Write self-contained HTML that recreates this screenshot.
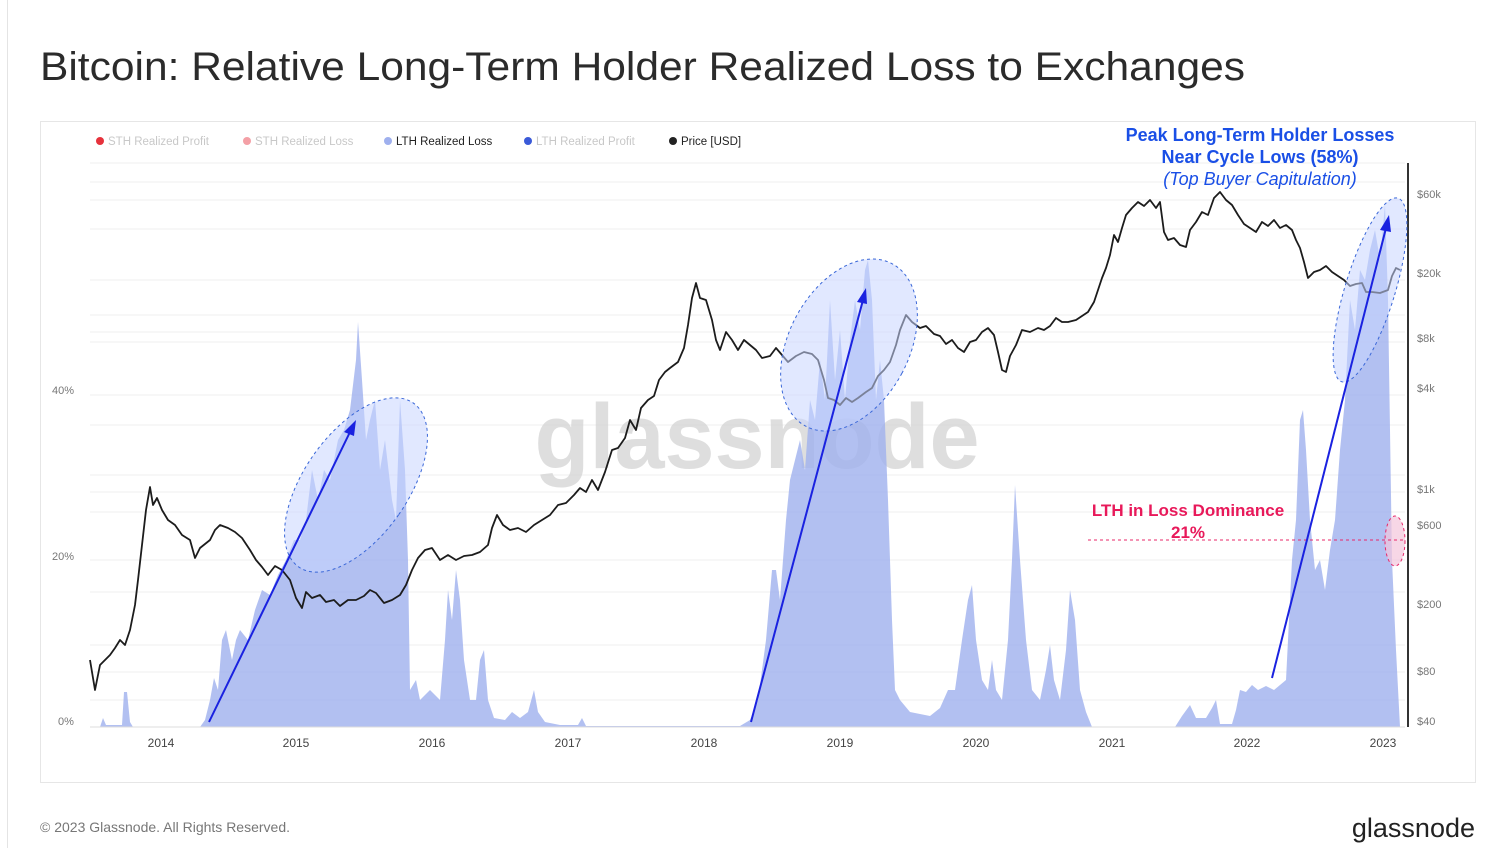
<!DOCTYPE html>
<html><head><meta charset="utf-8"><style>
body{margin:0;width:1501px;height:848px;background:#fff;font-family:"Liberation Sans",sans-serif;overflow:hidden;position:relative}
</style></head><body>
<svg width="1501" height="848" viewBox="0 0 1501 848" xmlns="http://www.w3.org/2000/svg" style="position:absolute;left:0;top:0">
<line x1="7.5" y1="0" x2="7.5" y2="848" stroke="#e4e4e4"/>
<text x="40" y="80" font-size="40" fill="#2b2b2b" font-family="Liberation Sans" textLength="1205" lengthAdjust="spacingAndGlyphs">Bitcoin: Relative Long-Term Holder Realized Loss to Exchanges</text>
<rect x="40.5" y="121.5" width="1435" height="661" fill="#fff" stroke="#e6e6e6"/>
<g stroke="#efefef" stroke-width="1">
<line x1="90" y1="163" x2="1405" y2="163"/><line x1="90" y1="182" x2="1405" y2="182"/><line x1="90" y1="200" x2="1405" y2="200"/><line x1="90" y1="229" x2="1405" y2="229"/><line x1="90" y1="280" x2="1405" y2="280"/><line x1="90" y1="315" x2="1405" y2="315"/><line x1="90" y1="332" x2="1405" y2="332"/><line x1="90" y1="342" x2="1405" y2="342"/><line x1="90" y1="395" x2="1405" y2="395"/><line x1="90" y1="425" x2="1405" y2="425"/><line x1="90" y1="475" x2="1405" y2="475"/><line x1="90" y1="492" x2="1405" y2="492"/><line x1="90" y1="512" x2="1405" y2="512"/><line x1="90" y1="560" x2="1405" y2="560"/><line x1="90" y1="592" x2="1405" y2="592"/><line x1="90" y1="645" x2="1405" y2="645"/><line x1="90" y1="672" x2="1405" y2="672"/><line x1="90" y1="700" x2="1405" y2="700"/>
</g>
<g font-size="11" fill="#777">
<text x="52" y="394">40%</text><text x="52" y="560">20%</text><text x="58" y="725">0%</text>
<text x="1417" y="198">$60k</text><text x="1417" y="277">$20k</text><text x="1417" y="342">$8k</text><text x="1417" y="392">$4k</text><text x="1417" y="493">$1k</text><text x="1417" y="529">$600</text><text x="1417" y="608">$200</text><text x="1417" y="675">$80</text><text x="1417" y="725">$40</text>
</g>
<g font-size="12" fill="#444" text-anchor="middle">
<text x="161" y="747">2014</text><text x="296" y="747">2015</text><text x="432" y="747">2016</text><text x="568" y="747">2017</text><text x="704" y="747">2018</text><text x="840" y="747">2019</text><text x="976" y="747">2020</text><text x="1112" y="747">2021</text><text x="1247" y="747">2022</text><text x="1383" y="747">2023</text>
</g>
<text x="757" y="468" font-size="92" fill="#d4d4d4" text-anchor="middle" font-weight="bold" opacity="0.75" textLength="445" lengthAdjust="spacingAndGlyphs">glassnode</text>
<polygon fill="#9fb0ee" opacity="0.8" points="90,727 100,727 103,718 106,725 122,725 124,692 127,692 130,722 133,727 200,727 205,720 210,700 214,678 218,690 222,640 226,630 232,660 236,640 240,630 248,640 255,610 262,590 270,595 278,575 286,560 294,540 300,540 306,520 312,470 318,500 324,470 330,480 338,440 344,430 350,410 356,360 358,322 362,380 366,440 370,420 375,400 380,470 385,440 392,500 396,520 400,400 405,470 408,560 410,690 416,680 420,700 430,690 440,700 445,640 448,590 452,620 456,570 460,600 464,660 470,700 476,700 480,660 484,650 488,700 494,718 505,720 512,712 520,718 528,712 534,690 538,712 545,722 560,725 578,725 582,718 586,726 740,726 750,720 758,700 766,640 772,570 776,570 780,600 786,520 790,480 795,460 800,440 805,470 810,400 815,420 820,360 825,400 830,300 835,380 840,330 845,400 850,340 855,300 860,330 865,270 868,260 872,300 876,400 880,360 884,400 888,500 892,620 895,690 900,700 910,712 930,716 940,708 948,690 955,690 962,640 968,600 972,585 976,640 982,680 988,690 992,660 996,690 1002,700 1008,640 1012,560 1015,485 1020,560 1026,640 1032,690 1040,700 1046,670 1050,645 1054,680 1060,700 1066,650 1070,590 1075,620 1080,690 1086,712 1092,727 1175,727 1182,716 1190,705 1196,718 1206,718 1212,708 1216,700 1220,724 1232,724 1236,710 1240,690 1246,692 1252,685 1258,690 1266,686 1274,690 1280,685 1286,680 1292,560 1296,520 1300,420 1303,410 1306,450 1310,520 1315,570 1320,560 1325,590 1330,550 1335,520 1340,450 1345,400 1350,300 1355,330 1360,270 1365,280 1370,250 1375,230 1380,260 1385,205 1388,300 1392,560 1396,650 1400,727"/>
<polyline fill="none" stroke="#1c1c1c" stroke-width="1.8" stroke-linejoin="round" points="90,660 95,690 100,665 110,655 115,648 120,640 125,645 130,630 135,605 138,580 142,545 146,510 150,487 153,505 157,498 162,510 168,520 175,525 182,535 190,540 195,558 200,548 210,540 215,530 220,525 228,528 235,532 242,538 250,550 256,560 262,567 268,575 275,566 282,570 290,580 296,598 302,608 306,592 312,598 320,595 326,602 334,600 340,606 348,600 356,600 364,596 370,590 376,593 384,603 392,600 400,595 406,585 412,570 418,558 425,550 432,548 440,560 448,555 456,560 464,556 472,555 480,552 488,545 492,528 497,515 503,525 510,530 518,528 526,532 534,525 542,520 550,515 558,505 566,503 574,495 580,488 586,492 592,480 598,490 605,472 612,450 618,448 625,438 630,420 636,430 641,408 648,400 654,396 659,380 665,372 670,368 678,362 684,348 688,325 692,298 696,283 700,298 706,300 712,320 716,340 720,350 726,332 732,340 738,350 744,340 750,345 756,350 762,358 770,356 776,348 782,355 788,362 796,356 804,352 812,354 818,360 824,380 828,398 834,400 840,405 846,398 852,402 858,398 866,392 872,388 878,376 884,370 890,362 896,345 900,330 906,315 912,322 920,328 926,326 934,334 940,336 946,344 952,340 958,348 964,352 970,342 976,340 982,332 988,328 994,335 998,352 1002,370 1006,372 1010,356 1016,345 1022,330 1030,332 1038,328 1044,330 1050,326 1056,318 1062,322 1068,322 1076,320 1082,316 1088,312 1094,302 1098,290 1102,278 1106,268 1110,255 1114,235 1118,242 1122,228 1126,215 1132,208 1138,202 1144,206 1150,200 1156,208 1160,202 1164,232 1168,240 1174,238 1180,245 1186,247 1190,230 1196,222 1202,212 1208,215 1214,198 1220,192 1226,200 1232,205 1238,215 1244,224 1250,228 1256,232 1262,222 1268,226 1274,220 1280,228 1286,225 1292,230 1296,240 1300,248 1304,262 1308,278 1314,272 1320,270 1326,266 1332,272 1338,276 1344,280 1350,286 1356,284 1362,283 1366,292 1372,292 1380,293 1388,290 1392,276 1396,268 1400,270"/>
<line x1="1408" y1="163" x2="1408" y2="727" stroke="#333" stroke-width="2"/>
<line x1="90" y1="727" x2="1405" y2="727" stroke="#ddd"/>
<ellipse cx="356" cy="485" rx="52" ry="100" transform="rotate(35 356 485)" fill="#c9d6ff" fill-opacity="0.55" stroke="#3a67d8" stroke-dasharray="3,3"/>
<ellipse cx="849" cy="345" rx="60" ry="92" transform="rotate(28 849 345)" fill="#c9d6ff" fill-opacity="0.55" stroke="#3a67d8" stroke-dasharray="3,3"/>
<ellipse cx="1370" cy="290" rx="25" ry="96" transform="rotate(17 1370 290)" fill="#c9d6ff" fill-opacity="0.55" stroke="#3a67d8" stroke-dasharray="3,3"/>
<ellipse cx="1395" cy="541" rx="10" ry="25" fill="#f3c6dc" fill-opacity="0.7" stroke="#e8276a" stroke-dasharray="3,3"/>
<line x1="1088" y1="540" x2="1405" y2="540" stroke="#e8276a" stroke-dasharray="3,3"/>
<g stroke="#1a22e0" stroke-width="2" fill="#1a22e0">
<line x1="209" y1="722" x2="350" y2="432"/><polygon points="356,420 344,432 354,436" stroke="none"/>
<line x1="751" y1="722" x2="863" y2="300"/><polygon points="866,288 857,302 867,304" stroke="none"/>
<line x1="1272" y1="678" x2="1386" y2="228"/><polygon points="1389,215 1380,230 1391,232" stroke="none"/>
</g>
<g font-size="11.5">
<circle cx="100" cy="141" r="4" fill="#e6323c"/><text x="108" y="145" fill="#c8c8c8">STH Realized Profit</text>
<circle cx="247" cy="141" r="4" fill="#f4a0a6"/><text x="255" y="145" fill="#c8c8c8">STH Realized Loss</text>
<circle cx="388" cy="141" r="4" fill="#9fb0ee"/><text x="396" y="145" fill="#222">LTH Realized Loss</text>
<circle cx="528" cy="141" r="4" fill="#3a5ad8"/><text x="536" y="145" fill="#c8c8c8">LTH Realized Profit</text>
<circle cx="673" cy="141" r="4" fill="#222"/><text x="681" y="145" fill="#222">Price [USD]</text>
</g>
<g text-anchor="middle" fill="#1a4fe6" font-size="18">
<text x="1260" y="141" font-weight="bold">Peak Long-Term Holder Losses</text>
<text x="1260" y="163" font-weight="bold">Near Cycle Lows (58%)</text>
<text x="1260" y="185" font-style="italic">(Top Buyer Capitulation)</text>
</g>
<g text-anchor="middle" fill="#e8195a" font-size="17" font-weight="bold">
<text x="1188" y="516">LTH in Loss Dominance</text>
<text x="1188" y="538">21%</text>
</g>
<text x="40" y="832" font-size="14" fill="#777">© 2023 Glassnode. All Rights Reserved.</text>
<text x="1475" y="837" font-size="27" fill="#222" text-anchor="end">glassnode</text>
</svg>
</body></html>
